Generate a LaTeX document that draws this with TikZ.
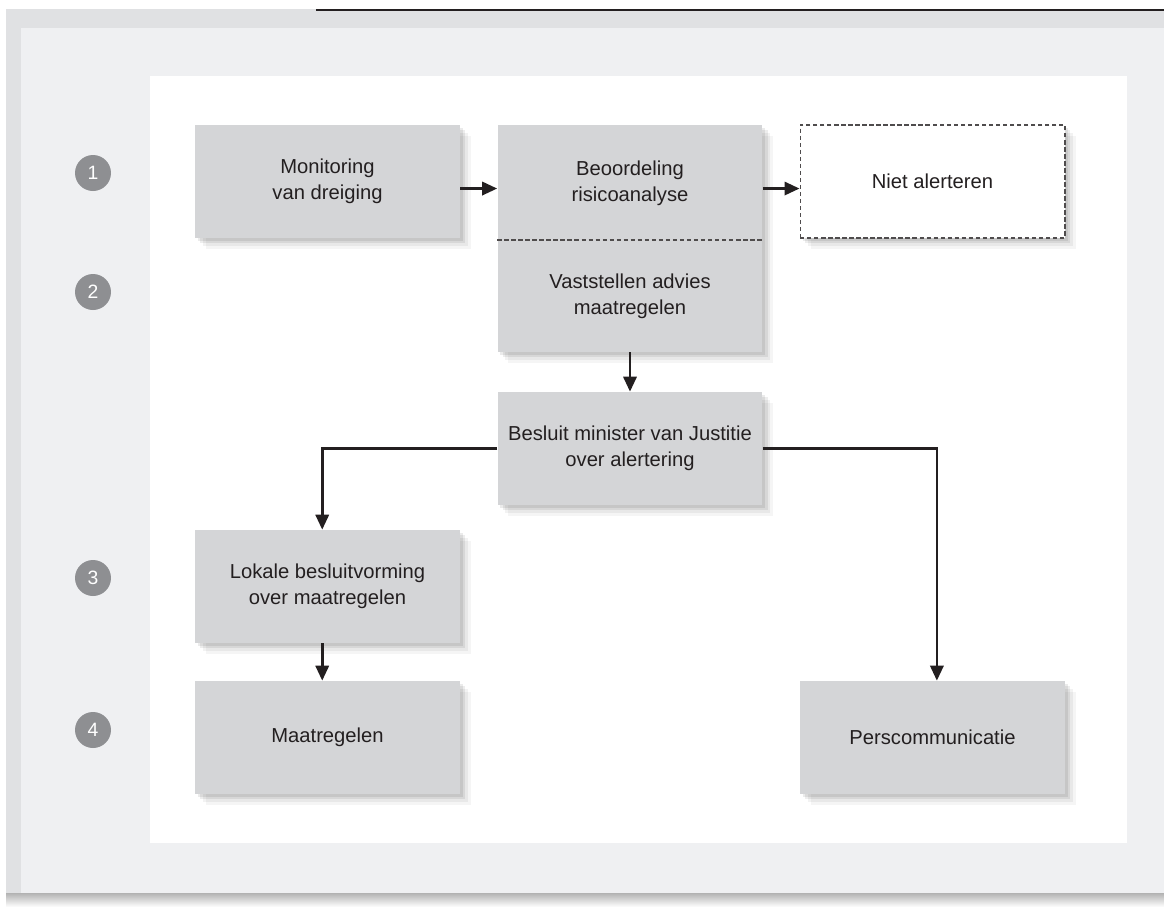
\documentclass[tikz,border=0pt]{standalone}
\usepackage{fontspec}
\setmainfont{Liberation Sans}
\usetikzlibrary{arrows.meta,shadows}

\definecolor{boxgray}{HTML}{D4D5D7}
\definecolor{panel}{HTML}{EFF0F2}
\definecolor{rim}{HTML}{E0E1E3}
\definecolor{dotgray}{HTML}{8E8F92}
\definecolor{ink}{HTML}{231F20}

\tikzset{
  zacht/.style={
    general shadow={fill=black, opacity=0.04, shadow xshift=6pt, shadow yshift=-6pt},
    general shadow={fill=black, opacity=0.05, shadow xshift=4.5pt, shadow yshift=-4.5pt},
    general shadow={fill=black, opacity=0.07, shadow xshift=3pt, shadow yshift=-3pt},
    general shadow={fill=black, opacity=0.08, shadow xshift=1.5pt, shadow yshift=-1.5pt}},
  stap/.style={fill=boxgray, minimum width=5.3cm, minimum height=2.26cm,
    align=center, text=ink, font=\fontsize{11.5}{15}\selectfont, zacht},
  nummer/.style={circle, fill=dotgray, minimum size=0.72cm, inner sep=0pt,
    text=white, font=\fontsize{11}{13}\selectfont},
  pijl/.style={-{Triangle[length=8.5pt,width=7.5pt]}, line width=1.5pt, ink}
}

\begin{document}
\begin{tikzpicture}[x=0.02cm, y=-0.02cm]
    \useasboundingbox (0,0) rectangle (1164,907);

    % Background panels
    \fill[rim] (6,9) rectangle (1164,893);
    \fill[panel] (21,28) rectangle (1164,893);
    \shade[top color=black!30, bottom color=white] (6,893) rectangle (1164,907);
    \fill[white] (150,76) rectangle (1127,843);
    \draw[line width=1.2pt, ink] (316,10) -- (1164,10);

    % Step numbers
    \foreach \y/\n in {173/1, 292/2, 578/3, 730/4}
    \node[nummer] (n\n) at (93,\y) {\n};

    % Boxes
    \node[stap] (monitoring) at (327.5,181.5) {Monitoring\\van dreiging};
    \node[stap, minimum height=4.54cm] (beoordeling) at (630,238.5) {};
    \node[stap, fill=white, draw=ink!80, line width=0.6pt,
      dash pattern=on 2.5pt off 1.5pt] (niet) at (932.5,181.5) {Niet alerteren};
    \node[stap] (besluit) at (630,448.5) {Besluit minister van Justitie\\over alertering};
    \node[stap] (lokaal) at (327.5,586.5) {Lokale besluitvorming\\over maatregelen};
    \node[stap] (maatregelen) at (327.5,737.5) {Maatregelen};
    \node[stap] (pers) at (932.5,737.5) {Perscommunicatie};

    % Split of the double box
    \node[align=center, text=ink, font=\fontsize{11.5}{15}\selectfont]
      (risico) at (630,183) {Beoordeling\\risicoanalyse};
    \node[align=center, text=ink, font=\fontsize{11.5}{15}\selectfont]
      (advies) at (630,296) {Vaststellen advies\\maatregelen};
    \draw[ink!80, line width=0.6pt, dash pattern=on 2.5pt off 1.5pt]
      (beoordeling.west |- 0,240) -- (beoordeling.east |- 0,240);

    % Connectors
    \draw[pijl] ([yshift=-4pt]monitoring.east) -- ([yshift=-4pt]monitoring.east -| beoordeling.west);
    \draw[pijl] ([yshift=-4pt]niet.west -| beoordeling.east) -- ([yshift=-4pt]niet.west);
    \draw[pijl] (beoordeling.south) -- (besluit.north);
    \draw[pijl] (besluit.west) -| ([xshift=-3pt]lokaal.north);
    \draw[pijl] (besluit.east) -| ([xshift=2.5pt]pers.north);
    \draw[pijl] ([xshift=-3pt]lokaal.south) -- ([xshift=-3pt]maatregelen.north);
  \end{tikzpicture}
\end{document}
